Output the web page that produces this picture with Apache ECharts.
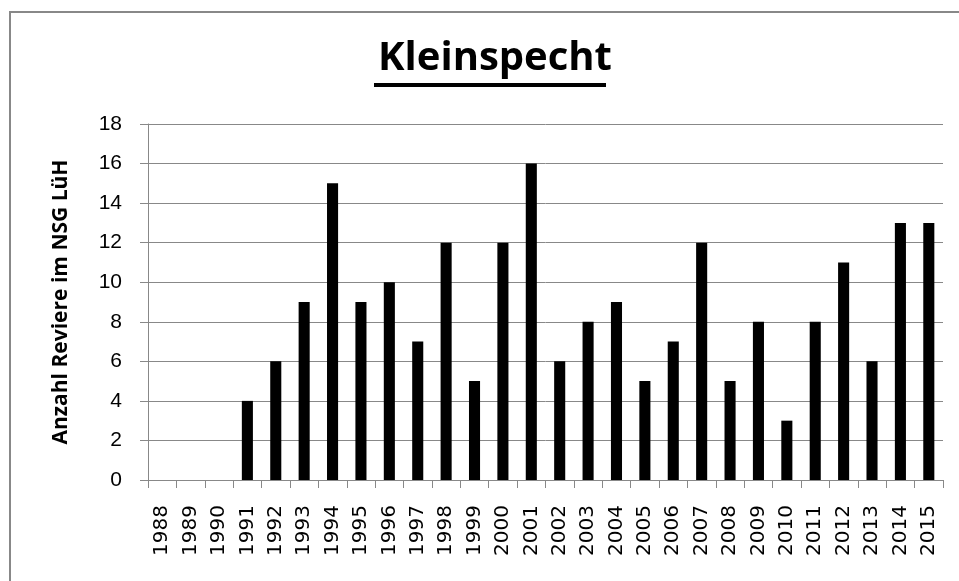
<!DOCTYPE html>
<html>
<head>
<meta charset="utf-8">
<script src="https://cdn.jsdelivr.net/npm/echarts@6/dist/echarts.min.js"></script>
<style>
  html, body { margin: 0; padding: 0; background: #fff; }
  #chart { width: 959px; height: 581px; }
</style>
</head>
<body>
<div id="chart"></div>
<script>
const years = ['1988', '1989', '1990', '1991', '1992', '1993', '1994', '1995', '1996', '1997',
  '1998', '1999', '2000', '2001', '2002', '2003', '2004', '2005', '2006', '2007',
  '2008', '2009', '2010', '2011', '2012', '2013', '2014', '2015']
const reviere = [0, 0, 0, 4, 6, 9, 15, 9, 10, 7,
  12, 5, 12, 16, 6, 8, 9, 5, 7, 12,
  5, 8, 3, 8, 11, 6, 13, 13]

const font = '"Liberation Sans", "DejaVu Sans", sans-serif'
const boldFont = '"Open Sans", "Liberation Sans", sans-serif'
const chart = echarts.init(document.getElementById('chart'))

chart.setOption({
  animation: false,
  title: {
    text: 'Kleinspecht',
    left: 490,
    textAlign: 'center',
    top: 34,
    textStyle: { fontFamily: boldFont, fontSize: 40, fontWeight: 'bold', color: '#000' }
  },
  graphic: [
    // page frame (only left and top edges visible)
    { type: 'rect', shape: { x: 10, y: 12, width: 980, height: 600 },
      style: { fill: 'none', stroke: '#888', lineWidth: 2 } },
    // title underline
    { type: 'line', shape: { x1: 374, y1: 85, x2: 606, y2: 85 },
      style: { stroke: '#000', lineWidth: 4 } }
  ],
  grid: { left: 148, right: 16, top: 124, bottom: 101 },
  xAxis: {
    type: 'category',
    data: years,
    axisLine: { lineStyle: { color: '#888', width: 1 } },
    axisTick: { show: true, length: 8, lineStyle: { color: '#888' } },
    axisLabel: { rotate: 90, fontFamily: '"DejaVu Sans", sans-serif', fontSize: 20, color: '#000', margin: 25, interval: 0 }
  },
  yAxis: {
    type: 'value',
    min: 0,
    max: 18,
    interval: 2,
    name: 'Anzahl Reviere im NSG LüH',
    nameLocation: 'middle',
    nameGap: 76,
    nameTextStyle: { fontFamily: boldFont, fontSize: 21, fontWeight: 'bold', color: '#000' },
    axisLine: { show: true, lineStyle: { color: '#888' } },
    axisTick: { show: true, length: 8, lineStyle: { color: '#888' } },
    axisLabel: { fontFamily: font, fontSize: 21, color: '#000', margin: 26 },
    splitLine: { lineStyle: { color: '#888', width: 1 } }
  },
  series: [{
    type: 'bar',
    data: reviere,
    barWidth: '39%',
    itemStyle: { color: '#000' }
  }]
})
</script>
</body>
</html>
